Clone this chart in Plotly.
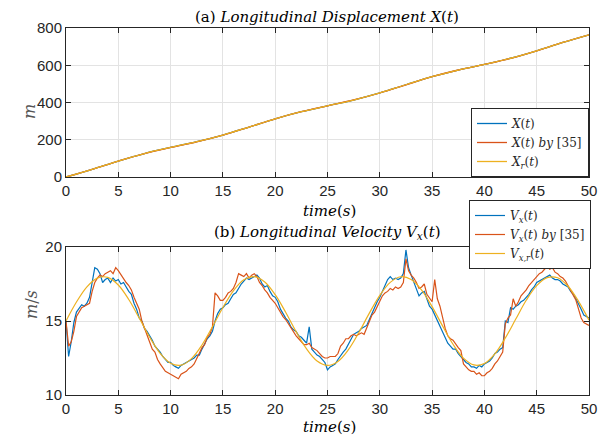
import numpy as np
import plotly.graph_objects as go

# ---------------- data ----------------
t_disp = [0, 2.5, 5, 7.5, 10, 12.5, 15, 17.5, 20, 22.5, 25, 27.5, 30, 32.5, 35,
          37.5, 40, 42.5, 45, 47.5, 50]
x_disp = [0, 41.2, 85.8, 126.1, 159.0, 189.5, 225.3, 268.2, 312.3, 350.5, 381.9,
          413.3, 451.3, 495.3, 538.3, 574.2, 604.8, 637.6, 677.7, 722.3, 763.7]
x_disp_35 = [0, 41.0, 85.5, 126.0, 158.5, 188.5, 224.5, 268.0, 312.5, 350.5, 382.5,
             413.5, 451.0, 495.0, 538.5, 574.5, 604.5, 637.0, 677.5, 722.5, 763.5]
x_disp_ref = [0, 41.2, 85.8, 126.1, 159.0, 189.5, 225.3, 268.2, 312.3, 350.5, 381.9,
              413.3, 451.3, 495.3, 538.3, 574.2, 604.8, 637.6, 677.7, 722.3, 763.7]

t_ref = list(range(0, 51))
v_ref = [15.00, 16.28, 17.31, 17.90, 17.95, 17.43, 16.45, 15.20, 13.90, 12.82,
         12.15, 12.02, 12.46, 13.38, 14.61, 15.91, 17.04, 17.78, 18.00, 17.64,
         16.78, 15.59, 14.28, 13.11, 12.30, 12.00, 12.27, 13.06, 14.22, 15.53,
         16.73, 17.61, 17.99, 17.80, 17.09, 15.97, 14.67, 13.43, 12.49, 12.03,
         12.13, 12.78, 13.85, 15.13, 16.40, 17.39, 17.93, 17.92, 17.35, 16.33, 15.06]

t_v = [i * 0.25 for i in range(201)]
v_x = [15.0, 12.6, 13.6, 14.9,
       15.6, 15.9, 16.1, 16.0,
       16.2, 16.6, 17.6, 18.6,
       18.5, 18.2, 17.6, 17.8,
       17.9, 17.6, 17.9, 17.7,
       17.8, 17.5, 17.6, 17.3,
       17.0, 16.8, 16.2, 15.8,
       15.2, 15.0, 14.5, 14.3,
       14.0, 13.7, 13.3, 13.1,
       12.9, 12.6, 12.4, 12.2,
       12.2, 12.0, 11.9, 11.8,
       12.0, 12.1, 12.2, 12.3,
       12.4, 12.5, 12.7, 12.7,
       13.1, 13.5, 13.8, 14.0,
       14.3, 15.0, 15.5, 15.8,
       15.9, 16.1, 16.2, 16.5,
       16.8, 16.9, 17.2, 17.5,
       17.7, 17.9, 17.8, 17.9,
       18.0, 18.1, 17.9, 17.5,
       17.3, 17.4, 17.0, 16.7,
       16.6, 16.3, 15.8, 15.5,
       15.2, 15.0, 14.6, 14.4,
       14.3, 14.0, 13.9, 13.7,
       13.5, 14.6, 13.1, 12.9,
       12.7, 12.6, 12.4, 12.2,
       11.7, 11.9, 12.0, 12.1,
       12.4, 12.7, 12.9, 13.1,
       13.4, 13.8, 14.1, 14.2,
       14.3, 14.5, 14.6, 14.7,
       15.1, 15.5, 16.0, 16.3,
       16.6, 17.0, 17.3, 17.8,
       18.0, 17.8, 17.9, 17.8,
       17.9, 18.2, 19.8, 18.6,
       18.1, 17.6, 17.2, 16.7,
       16.9, 17.0, 16.5, 16.0,
       15.8, 15.4, 15.0, 14.6,
       14.3, 13.9, 13.5, 13.3,
       13.1, 13.1, 12.8, 12.6,
       12.4, 12.2, 12.1, 11.9,
       11.9, 11.8, 12.0, 11.9,
       12.1, 12.2, 12.3, 12.5,
       12.8, 12.9, 13.1, 13.2,
       15.0, 14.9, 15.9, 15.8,
       16.0, 16.1, 16.3, 16.4,
       16.6, 16.8, 17.1, 17.3,
       17.6, 17.7, 17.8, 17.9,
       18.0, 18.1, 17.9, 17.8,
       17.8, 17.7, 17.5, 17.4,
       17.3, 17.0, 16.8, 16.5,
       16.2, 15.8, 15.4, 15.3,
       15.2]
v_x_35 = [15.0, 13.3, 13.6, 14.3,
          15.3, 15.6, 15.9, 16.0,
          16.1, 16.2, 17.0, 17.6,
          17.9, 18.1, 18.0, 18.2,
          18.3, 18.4, 18.2, 18.6,
          18.4, 18.1, 17.9, 17.6,
          17.4, 17.1, 16.6, 16.2,
          15.8, 15.0, 14.5, 14.1,
          13.6, 13.1, 12.9, 12.4,
          12.1, 11.8, 11.6, 11.5,
          11.4, 11.3, 11.15, 11.1,
          11.4, 11.5, 11.6, 11.8,
          11.9, 12.1, 12.5, 12.9,
          13.2, 13.4, 13.9, 14.1,
          14.6, 16.9, 16.7, 16.4,
          16.4, 16.6, 16.9, 17.0,
          17.2, 17.6, 18.2, 18.1,
          18.0, 18.2, 17.9, 18.1,
          18.2, 18.0, 17.6, 17.4,
          17.1, 16.9, 16.6, 16.4,
          16.2, 15.9, 15.6, 15.3,
          15.1, 14.8, 14.5, 14.2,
          14.0, 13.8, 13.6, 13.4,
          13.4, 13.5, 13.2, 13.1,
          13.0, 12.8, 12.6, 12.5,
          12.5, 12.6, 12.6, 12.6,
          12.8, 13.3, 13.5, 13.8,
          13.8, 14.0, 14.1, 14.0,
          14.1, 14.2, 14.1, 14.5,
          15.0, 15.4, 15.6, 16.0,
          16.3, 16.7, 16.9, 17.0,
          17.2, 17.1, 17.3, 17.2,
          17.3, 17.6, 19.2, 18.4,
          18.1, 17.9, 17.6, 17.2,
          17.3, 17.5, 16.8, 16.5,
          16.3, 17.8, 16.5, 16.0,
          15.2, 14.5, 14.0, 13.8,
          13.7, 13.4, 13.2, 13.0,
          12.1, 11.9, 11.7, 11.6,
          11.6, 11.4, 11.5, 11.3,
          11.3, 11.5, 11.6, 11.8,
          12.1, 12.3, 12.6, 12.9,
          14.8, 15.2, 15.4, 16.5,
          16.0, 16.3, 16.7, 16.9,
          17.1, 17.4, 17.6, 17.8,
          18.0, 18.2, 18.3, 18.5,
          18.7, 18.5, 18.6, 18.3,
          18.2, 18.0, 17.9, 17.7,
          17.4, 17.1, 16.8, 16.4,
          15.8, 15.2, 14.9, 14.8,
          14.7]

x_ticks = [0, 5, 10, 15, 20, 25, 30, 35, 40, 45, 50]
y1_ticks = [0, 200, 400, 600, 800]
y2_ticks = [10, 15, 20]

BLUE, RED, YEL = "#0072BD", "#D95319", "#EDB120"
AX = "#262626"
GRID = "#e3e3e3"
SERIF = "DejaVu Serif"
SANS = "Liberation Sans"

# page body has an 8px margin: figure is placed at (8, 8) in the window
OFF = 8
W, H = 610 - OFF, 443 - OFF
def px_x(p): return (p - OFF) / W
def px_y(p): return 1 - (p - OFF) / H

fig = go.Figure()
# top subplot
fig.add_trace(go.Scatter(x=t_disp, y=x_disp, mode="lines", line=dict(color=BLUE, width=1.3, shape="spline"),
                         name="<i>X</i>(<i>t</i>)", xaxis="x", yaxis="y", legend="legend"))
fig.add_trace(go.Scatter(x=t_disp, y=x_disp_35, mode="lines", line=dict(color=RED, width=1.3, shape="spline"),
                         name="<i>X</i>(<i>t</i>) <i>by</i> [35]", xaxis="x", yaxis="y", legend="legend"))
fig.add_trace(go.Scatter(x=t_disp, y=x_disp_ref, mode="lines", line=dict(color=YEL, width=1.3, shape="spline"),
                         name="<i>X<sub>r</sub></i>(<i>t</i>)", xaxis="x", yaxis="y", legend="legend"))
# bottom subplot
fig.add_trace(go.Scatter(x=t_v, y=v_x, mode="lines", line=dict(color=BLUE, width=1.2),
                         name="<i>V<sub>x</sub></i>(<i>t</i>)", xaxis="x2", yaxis="y2", legend="legend2"))
fig.add_trace(go.Scatter(x=t_v, y=v_x_35, mode="lines", line=dict(color=RED, width=1.2),
                         name="<i>V<sub>x</sub></i>(<i>t</i>) <i>by</i> [35]", xaxis="x2", yaxis="y2", legend="legend2"))
fig.add_trace(go.Scatter(x=t_ref, y=v_ref, mode="lines", line=dict(color=YEL, width=1.2, shape="spline"),
                         name="<i>V<sub>x,r</sub></i>(<i>t</i>)", xaxis="x2", yaxis="y2", legend="legend2"))

axis_common = dict(showline=True, linecolor=AX, linewidth=1, mirror="ticks", ticks="inside",
                   ticklen=5, tickcolor=AX, showgrid=True, gridcolor=GRID, gridwidth=1,
                   zeroline=False, automargin=False,
                   tickfont=dict(family=SANS, size=15, color=AX))

xdom = [px_x(66), px_x(589)]
leg_common = dict(bgcolor="white", bordercolor=AX, borderwidth=1,
                  font=dict(family=SERIF, size=12, color=AX), tracegroupgap=0, itemwidth=30)
fig.update_layout(
    width=W, height=H, margin=dict(l=0, r=0, t=0, b=0),
    paper_bgcolor="white", plot_bgcolor="white",
    xaxis=dict(domain=xdom, range=[0, 50], tickvals=x_ticks, anchor="y", **axis_common),
    yaxis=dict(domain=[px_y(177), px_y(28)], range=[0, 800], tickvals=y1_ticks, anchor="x", **axis_common),
    xaxis2=dict(domain=xdom, range=[0, 50], tickvals=x_ticks, anchor="y2", **axis_common),
    yaxis2=dict(domain=[px_y(395), px_y(247)], range=[10, 20], tickvals=y2_ticks, anchor="x2", **axis_common),
    legend=dict(x=px_x(589), y=px_y(177), xanchor="right", yanchor="bottom", **leg_common),
    legend2=dict(x=px_x(591), y=px_y(200), xanchor="right", yanchor="top", **leg_common),
    showlegend=True,
)

ann_font = dict(family=SERIF, size=15, color="black")
annotations = [
    dict(text="(a) <i>Longitudinal Displacement X</i>(<i>t</i>)", x=px_x(327), y=px_y(17)),
    dict(text="(b) <i>Longitudinal Velocity V<sub>x</sub></i>(<i>t</i>)", x=px_x(327), y=px_y(232)),
    dict(text="<i>time</i>(<i>s</i>)", x=px_x(329), y=px_y(211)),
    dict(text="<i>time</i>(<i>s</i>)", x=px_x(329), y=px_y(427)),
]
for a in annotations:
    fig.add_annotation(xref="paper", yref="paper", showarrow=False, xanchor="center", yanchor="middle",
                       font=ann_font, **a)
fig.add_annotation(text="<i>m</i>", xref="paper", yref="paper", x=px_x(18), y=px_y(102), textangle=-90,
                   showarrow=False, font=dict(family=SERIF, size=16, color="#555555"))
fig.add_annotation(text="<i>m</i>/<i>s</i>", xref="paper", yref="paper", x=px_x(20), y=px_y(321), textangle=-90,
                   showarrow=False, font=dict(family=SERIF, size=16, color="#555555"))

fig.write_html("out.html")
